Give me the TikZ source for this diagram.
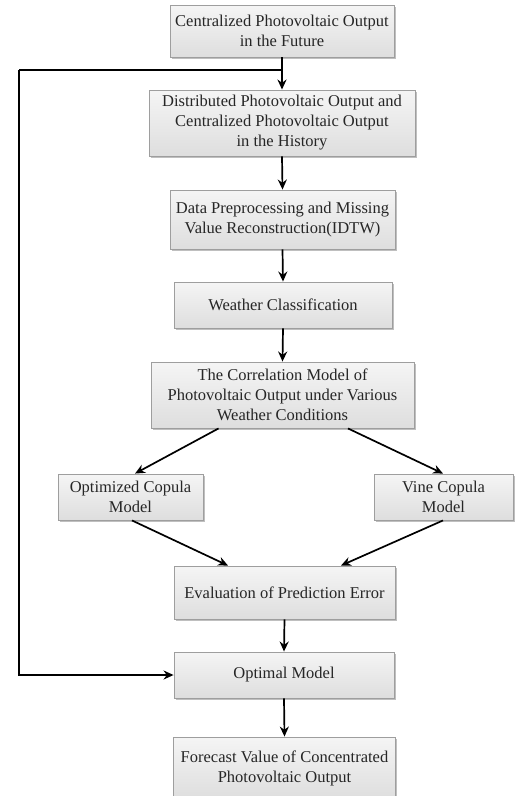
\documentclass[tikz,border=0pt]{standalone}
\usepackage{fontspec}
\setmainfont{Liberation Serif}
\usetikzlibrary{arrows.meta,shadows}
\begin{document}
\begin{tikzpicture}[x=1pt,y=-1pt,
  box/.style={draw=black!38, line width=0.9pt, top color=white!96!black, bottom color=black!13,
    drop shadow={shadow xshift=1.5pt, shadow yshift=-1.5pt, opacity=0.25, fill=black},
    align=center, inner sep=0pt, text=black!85, font=\fontsize{16.5}{20}\selectfont},
  arr/.style={line width=1.7pt, -{Stealth[length=10pt,width=9pt]}},
  ln/.style={line width=1.7pt}]
\useasboundingbox (0,0) rectangle (524,796);
\node[box, minimum width=224pt, minimum height=52pt] (n1) at (282,31) {Centralized Photovoltaic Output\\in the Future};
\node[box, minimum width=266pt, minimum height=66pt] (n2) at (282,123) {Distributed Photovoltaic Output and\\Centralized Photovoltaic Output\\in the History};
\node[box, minimum width=225pt, minimum height=59pt] (n3) at (282.5,219.5) {Data Preprocessing and Missing\\Value Reconstruction(IDTW)};
\node[box, minimum width=218pt, minimum height=46pt] (n4) at (283,305) {Weather Classification};
\node[box, minimum width=263pt, minimum height=66pt] (n5) at (282.5,395) {The Correlation Model of\\Photovoltaic Output under Various\\Weather Conditions};
\node[box, minimum width=145pt, minimum height=46pt] (n6) at (130.5,497) {Optimized Copula\\Model};
\node[box, minimum width=139pt, minimum height=46pt] (n7) at (443.5,497) {Vine Copula\\Model};
\node[box, minimum width=221pt, minimum height=53pt] (n8) at (284.5,592.5) {Evaluation of Prediction Error};
\node[box, minimum width=220pt, minimum height=46pt] (n9) at (284,675) {Optimal Model};
\node[box, minimum width=222pt, minimum height=62pt] (n10) at (284.5,768) {Forecast Value of Concentrated\\Photovoltaic Output};
\coordinate (j) at (n1.south |- 0,70);
\coordinate (fb) at (19,70);
\draw[arr] (n1.south) -- (n2.north);
\draw[ln] (j) -- (fb);
\draw[arr] (fb) |- (n9.west);
\draw[arr] (n2.south) -- (n3.north);
\draw[arr] (n3.south) -- (n4.north);
\draw[arr] (n4.south) -- (n5.north);
\draw[arr] ([xshift=-64pt]n5.south) -- ([xshift=4.5pt]n6.north);
\draw[arr] ([xshift=65.5pt]n5.south) -- ([xshift=-0.5pt]n7.north);
\draw[arr] ([xshift=1.5pt]n6.south) -- ([xshift=-56.5pt]n8.north);
\draw[arr] ([xshift=-0.5pt]n7.south) -- ([xshift=56.5pt]n8.north);
\draw[arr] (n8.south) -- (n9.north);
\draw[arr] (n9.south) -- (n10.north);
\end{tikzpicture}
\end{document}
